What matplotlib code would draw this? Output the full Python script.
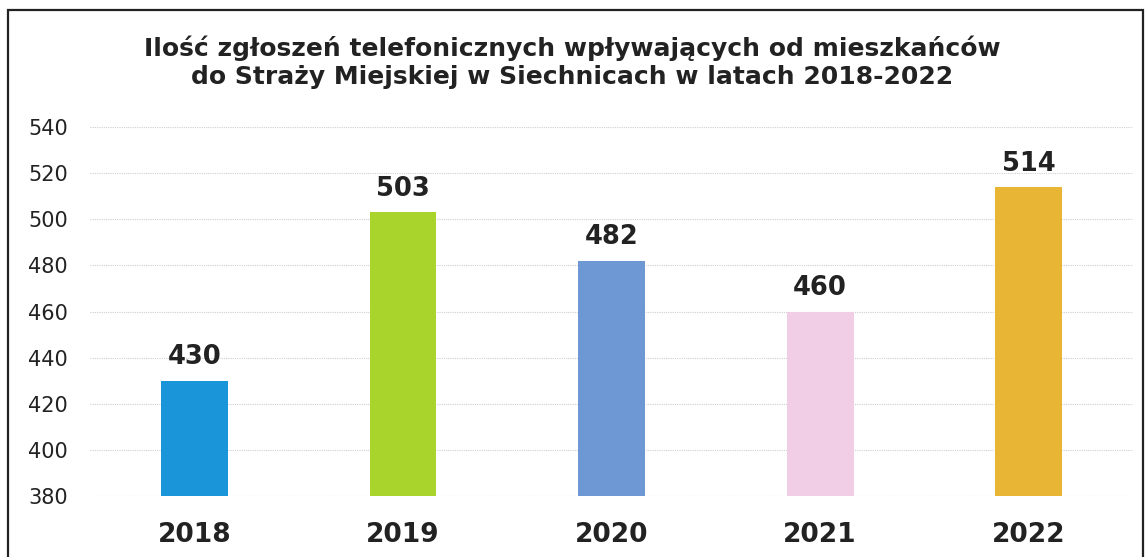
import matplotlib.pyplot as plt
from matplotlib.patches import Rectangle


# Dane.
years = ["2018", "2019", "2020", "2021", "2022"]
calls = [430, 503, 482, 460, 514]
colors = ["#1b95d9", "#a8d42c", "#6e98d3", "#f1cde6", "#e9b535"]
y_ticks = [380, 400, 420, 440, 460, 480, 500, 520, 540]


def main():
    fig = plt.figure(figsize=(11.45, 5.57), dpi=100)
    ax = fig.add_axes([0.0786, 0.1095, 0.911, 0.6625])

    positions = range(len(years))
    ax.bar(positions, [c - y_ticks[0] for c in calls], bottom=y_ticks[0],
           width=0.32, color=colors, zorder=2)

    # Wartości nad słupkami.
    for x, value in zip(positions, calls):
        ax.text(x, value + 4.5, str(value), ha="center", va="bottom",
                fontsize=18.5, fontweight="bold", color="#222222")

    ax.set_xlim(-0.5, len(years) - 0.5)
    ax.set_ylim(y_ticks[0], y_ticks[-1])
    ax.set_yticks(y_ticks)
    ax.set_xticks(list(positions))
    ax.set_xticklabels(years, fontsize=19, fontweight="bold", color="#222222")
    ax.tick_params(axis="y", labelsize=15, colors="#222222", length=0, pad=16)
    ax.tick_params(axis="x", length=0, pad=19)
    ax.grid(axis="y", color="#cfcfcf", linewidth=0.8, linestyle=(0, (1, 1)), zorder=0)
    for spine in ax.spines.values():
        spine.set_visible(False)

    fig.text(0.5, 0.888, "Ilość zgłoszeń telefonicznych wpływających od mieszkańców\n"
             "do Straży Miejskiej w Siechnicach w latach 2018-2022",
             ha="center", va="center", fontsize=18, fontweight="bold",
             color="#222222", linespacing=1.2)

    # Ramka wokół wykresu.
    fig.patches.append(Rectangle((0.007, -0.01), 0.991, 0.992, transform=fig.transFigure,
                                 fill=False, edgecolor="#222222", linewidth=1.6))

    fig.savefig("out.png", dpi=100)


if __name__ == "__main__":
    main()
